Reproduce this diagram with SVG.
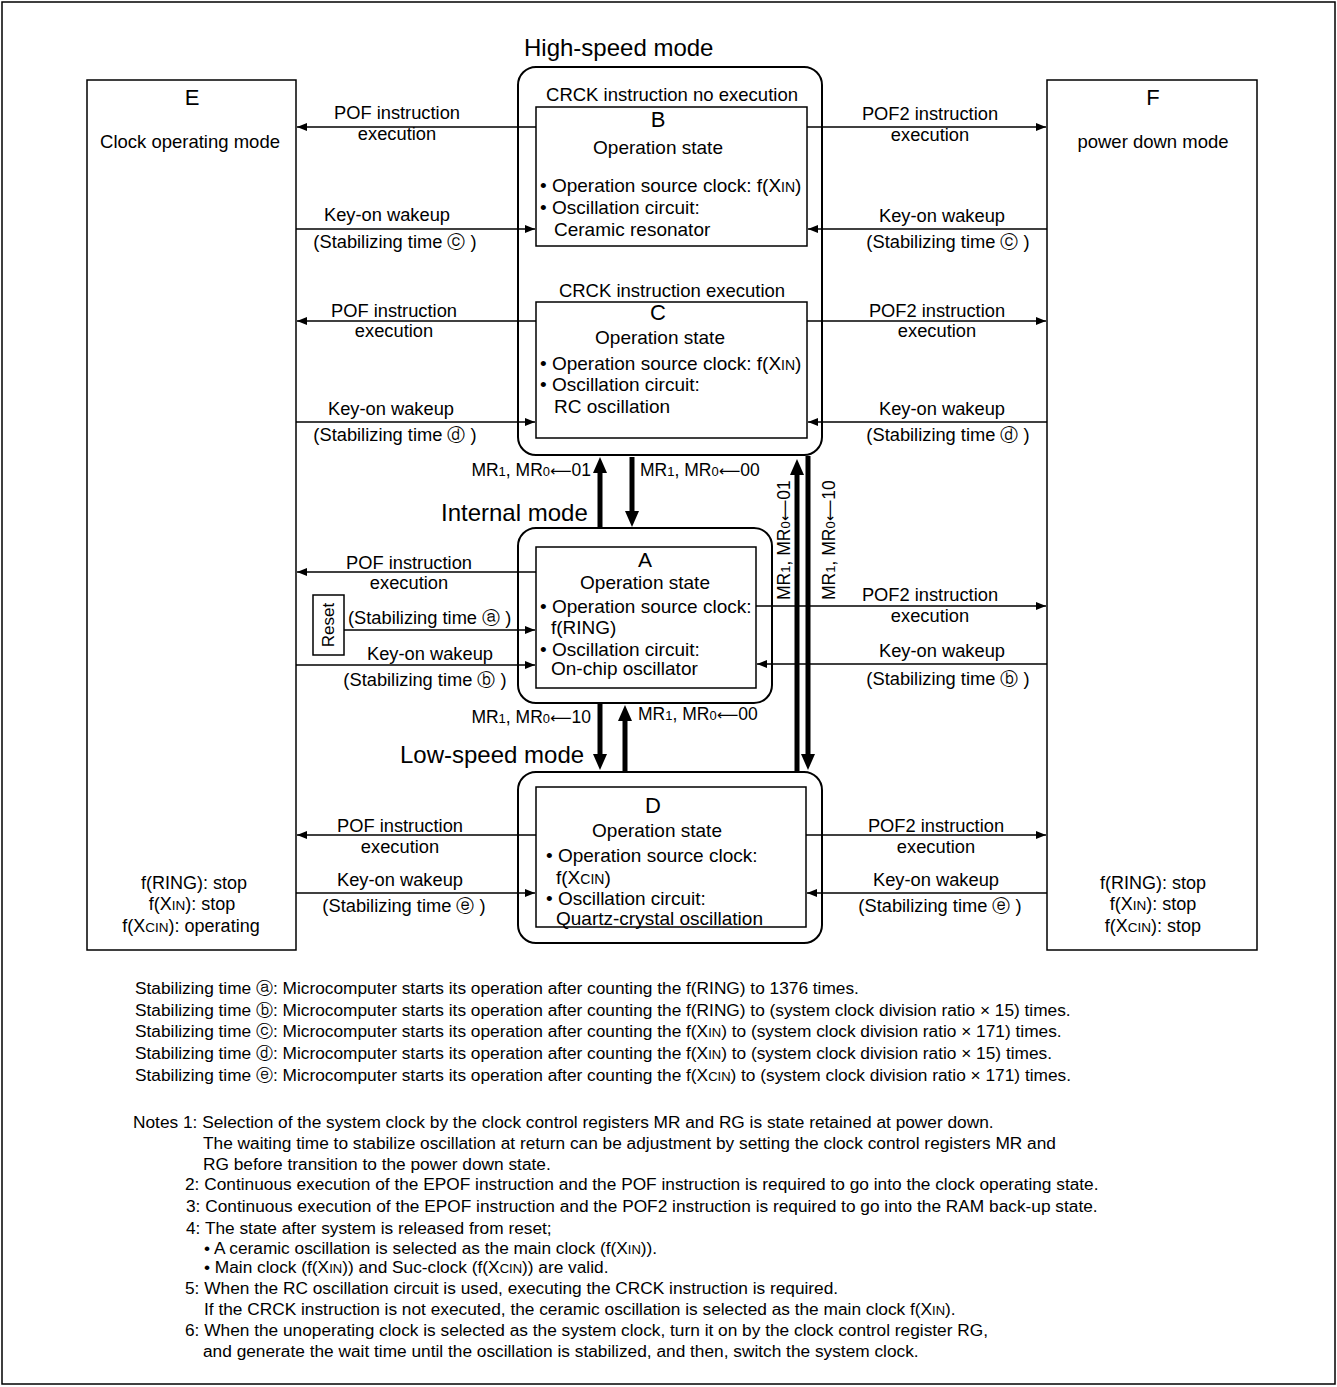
<svg xmlns="http://www.w3.org/2000/svg" width="1337" height="1387" viewBox="0 0 1337 1387">
<style>
text{font-family:"Liberation Sans","DejaVu Sans",Arial,sans-serif;fill:#000}
.lbl{font-size:18.3px;text-anchor:middle}
.bx{font-size:19px}
.mid{text-anchor:middle}
.big{font-size:22px;text-anchor:middle}
.mode{font-size:24px}
.mr{font-size:17.5px}
.arr{font-family:"DejaVu Sans",sans-serif;font-size:15px}
.note{font-size:17.3px}
.frame{fill:#fff;stroke:#000;stroke-width:1.5}
.box{fill:none;stroke:#000;stroke-width:1.5}
.rbox{fill:none;stroke:#000;stroke-width:2}
.thin{fill:none;stroke:#000;stroke-width:1.3}
.thick{fill:none;stroke:#000;stroke-width:5}
</style>
<defs>
<marker id="ah" markerUnits="userSpaceOnUse" markerWidth="10" markerHeight="8" refX="10" refY="4" orient="auto"><path d="M0,0 L10,4 L0,8 z" fill="#000"/></marker>
<marker id="ahT" markerUnits="userSpaceOnUse" markerWidth="16" markerHeight="14" refX="2" refY="7" orient="auto"><path d="M0,0 L16,7 L0,14 z" fill="#000"/></marker>
</defs>
<rect class="frame" x="2" y="2" width="1333" height="1382"/>

<g id="node-E">
<rect class="box" x="87" y="80" width="209" height="870"/>
<text class="big" x="192" y="105">E</text>
<text class="mid" style="font-size:18.5px" x="190" y="148">Clock operating mode</text>
<text class="mid" style="font-size:18px" x="194" y="889">f(RING): stop</text>
<text class="mid" style="font-size:18px" x="192" y="910">f(X<tspan font-size="13.5">IN</tspan>): stop</text>
<text class="mid" style="font-size:18px" x="191" y="932">f(X<tspan font-size="13.5">CIN</tspan>): operating</text>
</g>

<g id="node-F">
<rect class="box" x="1047" y="80" width="210" height="870"/>
<text class="big" x="1153" y="105">F</text>
<text class="mid" style="font-size:18.5px" x="1153" y="148">power down mode</text>
<text class="mid" style="font-size:18px" x="1153" y="889">f(RING): stop</text>
<text class="mid" style="font-size:18px" x="1153" y="910">f(X<tspan font-size="13.5">IN</tspan>): stop</text>
<text class="mid" style="font-size:18px" x="1153" y="932">f(X<tspan font-size="13.5">CIN</tspan>): stop</text>
</g>

<g id="node-highspeed">
<text class="mode" x="524" y="56">High-speed mode</text>
<rect class="rbox" x="518" y="67" width="304" height="388" rx="18"/>
<text class="mid" style="font-size:18.5px" x="672" y="101">CRCK instruction no execution</text>
<text class="mid" style="font-size:18.5px" x="672" y="297">CRCK instruction execution</text>
</g>

<g id="node-B">
<rect class="box" x="536" y="107" width="271" height="139"/>
<text class="big" x="658" y="127">B</text>
<text class="bx mid" x="658" y="154">Operation state</text>
<text class="bx" x="540" y="192">• Operation source clock: f(X<tspan font-size="14">IN</tspan>)</text>
<text class="bx" x="540" y="214">• Oscillation circuit:</text>
<text class="bx" x="554" y="236">Ceramic resonator</text>
</g>

<g id="node-C">
<rect class="box" x="536" y="302" width="271" height="136"/>
<text class="big" x="658" y="320">C</text>
<text class="bx mid" x="660" y="344">Operation state</text>
<text class="bx" x="540" y="370">• Operation source clock: f(X<tspan font-size="14">IN</tspan>)</text>
<text class="bx" x="540" y="391">• Oscillation circuit:</text>
<text class="bx" x="554" y="413">RC oscillation</text>
</g>

<g id="node-internal">
<text class="mode" x="441" y="521">Internal mode</text>
<rect class="rbox" x="518" y="528" width="254" height="175" rx="18"/>
</g>

<g id="node-A">
<rect class="box" x="536" y="547" width="220" height="141"/>
<text class="big" style="font-size:21px" x="645" y="567">A</text>
<text class="bx mid" x="645" y="589">Operation state</text>
<text class="bx" x="540" y="613">• Operation source clock:</text>
<text class="bx" x="551" y="634">f(RING)</text>
<text class="bx" x="540" y="656">• Oscillation circuit:</text>
<text class="bx" x="551" y="675">On-chip oscillator</text>
</g>

<g id="node-lowspeed">
<text class="mode" x="400" y="763">Low-speed mode</text>
<rect class="rbox" x="518" y="772" width="304" height="171" rx="18"/>
</g>

<g id="node-D">
<rect class="box" x="536" y="787" width="270" height="140"/>
<text class="big" x="653" y="813">D</text>
<text class="bx mid" x="657" y="837">Operation state</text>
<text class="bx" x="546" y="862">• Operation source clock:</text>
<text class="bx" x="556" y="884">f(X<tspan font-size="14">CIN</tspan>)</text>
<text class="bx" x="546" y="905">• Oscillation circuit:</text>
<text class="bx" x="556" y="925">Quartz-crystal oscillation</text>
</g>

<g id="node-reset">
<rect class="box" x="313" y="595" width="31" height="60"/>
<text style="font-size:17px" text-anchor="middle" x="334" y="625" transform="rotate(-90 334 625)">Reset</text>
</g>

<g id="connectors">
<!-- B -->
<path class="thin" d="M536,127 H297" marker-end="url(#ah)"/>
<path class="thin" d="M296,229 H535" marker-end="url(#ah)"/>
<path class="thin" d="M807,127 H1046" marker-end="url(#ah)"/>
<path class="thin" d="M1047,229 H808" marker-end="url(#ah)"/>
<text class="lbl" x="397" y="119">POF instruction</text>
<text class="lbl" x="397" y="140">execution</text>
<text class="lbl" x="387" y="221">Key-on wakeup</text>
<text class="lbl" x="395" y="248">(Stabilizing time ⓒ )</text>
<text class="lbl" x="930" y="120">POF2 instruction</text>
<text class="lbl" x="930" y="141">execution</text>
<text class="lbl" x="942" y="222">Key-on wakeup</text>
<text class="lbl" x="948" y="248">(Stabilizing time ⓒ )</text>
<!-- C -->
<path class="thin" d="M536,321 H297" marker-end="url(#ah)"/>
<path class="thin" d="M296,422 H535" marker-end="url(#ah)"/>
<path class="thin" d="M807,321 H1046" marker-end="url(#ah)"/>
<path class="thin" d="M1047,422 H808" marker-end="url(#ah)"/>
<text class="lbl" x="394" y="317">POF instruction</text>
<text class="lbl" x="394" y="337">execution</text>
<text class="lbl" x="391" y="415">Key-on wakeup</text>
<text class="lbl" x="395" y="441">(Stabilizing time ⓓ )</text>
<text class="lbl" x="937" y="317">POF2 instruction</text>
<text class="lbl" x="937" y="337">execution</text>
<text class="lbl" x="942" y="415">Key-on wakeup</text>
<text class="lbl" x="948" y="441">(Stabilizing time ⓓ )</text>
<!-- A -->
<path class="thin" d="M536,572 H297" marker-end="url(#ah)"/>
<path class="thin" d="M344,630 H535" marker-end="url(#ah)"/>
<path class="thin" d="M296,665 H535" marker-end="url(#ah)"/>
<path class="thin" d="M756,606 H1046" marker-end="url(#ah)"/>
<path class="thin" d="M1047,664 H757" marker-end="url(#ah)"/>
<text class="lbl" x="409" y="569">POF instruction</text>
<text class="lbl" x="409" y="589">execution</text>
<text style="font-size:18.3px" x="348" y="624">(Stabilizing time ⓐ )</text>
<text class="lbl" x="430" y="660">Key-on wakeup</text>
<text class="lbl" x="425" y="686">(Stabilizing time ⓑ )</text>
<text class="lbl" x="930" y="601">POF2 instruction</text>
<text class="lbl" x="930" y="622">execution</text>
<text class="lbl" x="942" y="657">Key-on wakeup</text>
<text class="lbl" x="948" y="685">(Stabilizing time ⓑ )</text>
<!-- D -->
<path class="thin" d="M536,835 H297" marker-end="url(#ah)"/>
<path class="thin" d="M296,893 H535" marker-end="url(#ah)"/>
<path class="thin" d="M806,835 H1046" marker-end="url(#ah)"/>
<path class="thin" d="M1047,893 H807" marker-end="url(#ah)"/>
<text class="lbl" x="400" y="832">POF instruction</text>
<text class="lbl" x="400" y="853">execution</text>
<text class="lbl" x="400" y="886">Key-on wakeup</text>
<text class="lbl" x="404" y="912">(Stabilizing time ⓔ )</text>
<text class="lbl" x="936" y="832">POF2 instruction</text>
<text class="lbl" x="936" y="853">execution</text>
<text class="lbl" x="936" y="886">Key-on wakeup</text>
<text class="lbl" x="940" y="912">(Stabilizing time ⓔ )</text>
<!-- mode transitions -->
<path class="thick" d="M600,527 V471" marker-end="url(#ahT)"/>
<path class="thick" d="M632,457 V513" marker-end="url(#ahT)"/>
<path class="thick" d="M600,704 V756" marker-end="url(#ahT)"/>
<path class="thick" d="M625,772 V719" marker-end="url(#ahT)"/>
<path class="thick" d="M797,772 V473" marker-end="url(#ahT)"/>
<path class="thick" d="M808,456 V756" marker-end="url(#ahT)"/>
<text class="mr" text-anchor="end" x="591" y="476">MR<tspan font-size="13">1</tspan>, MR<tspan font-size="13">0</tspan><tspan class="arr">⟵</tspan>01</text>
<text class="mr" x="640" y="476">MR<tspan font-size="13">1</tspan>, MR<tspan font-size="13">0</tspan><tspan class="arr">⟵</tspan>00</text>
<text class="mr" text-anchor="end" x="591" y="723">MR<tspan font-size="13">1</tspan>, MR<tspan font-size="13">0</tspan><tspan class="arr">⟵</tspan>10</text>
<text class="mr" x="638" y="720">MR<tspan font-size="13">1</tspan>, MR<tspan font-size="13">0</tspan><tspan class="arr">⟵</tspan>00</text>
<text class="mr" x="790" y="600" transform="rotate(-90 790 600)">MR<tspan font-size="13">1</tspan>, MR<tspan font-size="13">0</tspan><tspan class="arr">⟵</tspan>01</text>
<text class="mr" x="835" y="600" transform="rotate(-90 835 600)">MR<tspan font-size="13">1</tspan>, MR<tspan font-size="13">0</tspan><tspan class="arr">⟵</tspan>10</text>
</g>

<g id="notes">
<text class="note" x="135" y="994">Stabilizing time ⓐ: Microcomputer starts its operation after counting the f(RING) to 1376 times.</text>
<text class="note" x="135" y="1016">Stabilizing time ⓑ: Microcomputer starts its operation after counting the f(RING) to (system clock division ratio × 15) times.</text>
<text class="note" x="135" y="1037">Stabilizing time ⓒ: Microcomputer starts its operation after counting the f(X<tspan font-size="13">IN</tspan>) to (system clock division ratio × 171) times.</text>
<text class="note" x="135" y="1059">Stabilizing time ⓓ: Microcomputer starts its operation after counting the f(X<tspan font-size="13">IN</tspan>) to (system clock division ratio × 15) times.</text>
<text class="note" x="135" y="1081">Stabilizing time ⓔ: Microcomputer starts its operation after counting the f(X<tspan font-size="13">CIN</tspan>) to (system clock division ratio × 171) times.</text>
<text class="note" x="133" y="1128">Notes 1: Selection of the system clock by the clock control registers MR and RG is state retained at power down.</text>
<text class="note" x="203" y="1149">The waiting time to stabilize oscillation at return can be adjustment by setting the clock control registers MR and</text>
<text class="note" x="203" y="1170">RG before transition to the power down state.</text>
<text class="note" x="185" y="1190">2: Continuous execution of the EPOF instruction and the POF instruction is required to go into the clock operating state.</text>
<text class="note" x="186" y="1212">3: Continuous execution of the EPOF instruction and the POF2 instruction is required to go into the RAM back-up state.</text>
<text class="note" x="186" y="1234">4: The state after system is released from reset;</text>
<text class="note" x="204" y="1254">• A ceramic oscillation is selected as the main clock (f(X<tspan font-size="13">IN</tspan>)).</text>
<text class="note" x="204" y="1273">• Main clock (f(X<tspan font-size="13">IN</tspan>)) and Suc-clock (f(X<tspan font-size="13">CIN</tspan>)) are valid.</text>
<text class="note" x="185" y="1294">5: When the RC oscillation circuit is used, executing the CRCK instruction is required.</text>
<text class="note" x="204" y="1315">If the CRCK instruction is not executed, the ceramic oscillation is selected as the main clock f(X<tspan font-size="13">IN</tspan>).</text>
<text class="note" x="185" y="1336">6: When the unoperating clock is selected as the system clock, turn it on by the clock control register RG,</text>
<text class="note" x="203" y="1357">and generate the wait time until the oscillation is stabilized, and then, switch the system clock.</text>
</g>
</svg>
